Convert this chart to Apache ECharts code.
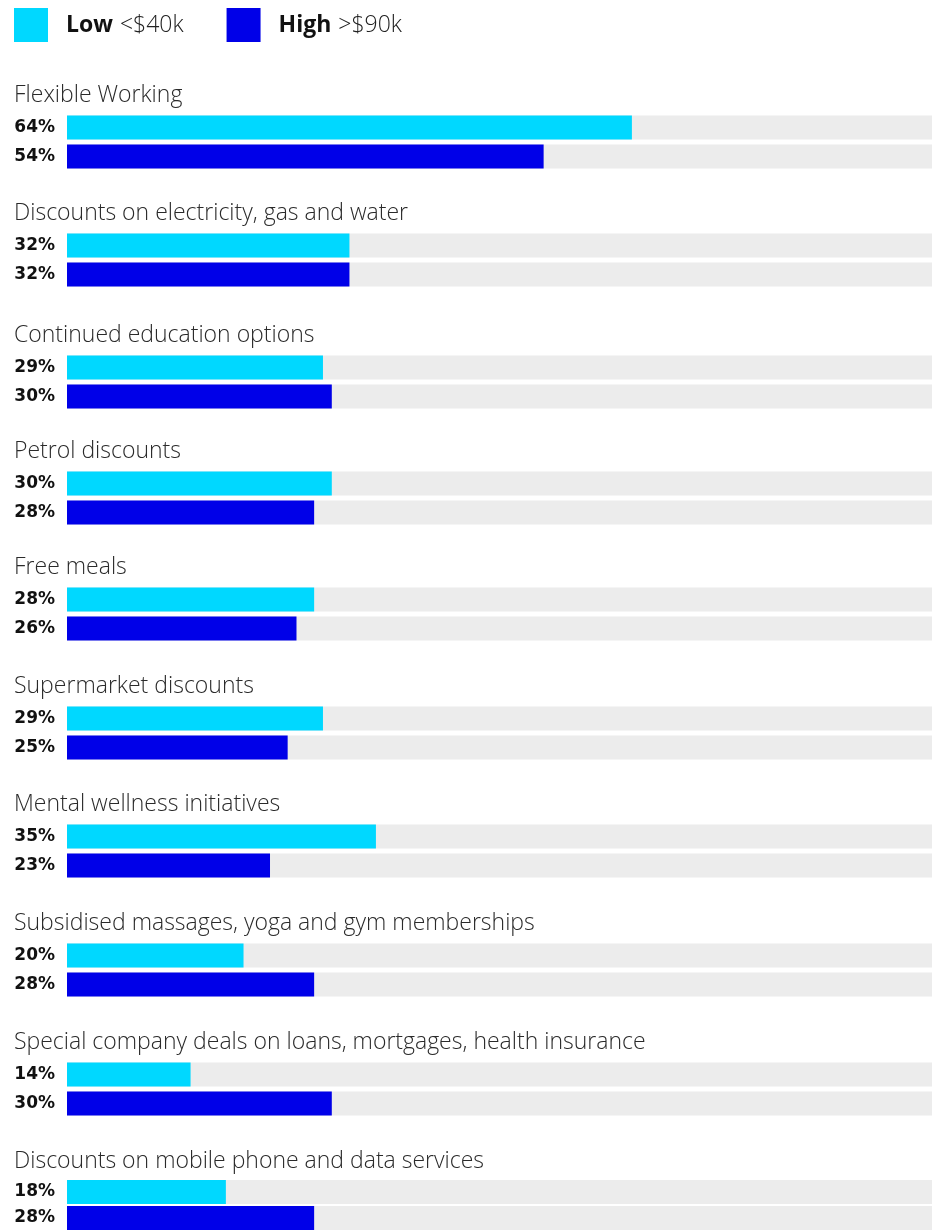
<!DOCTYPE html>
<html>
<head>
<meta charset="utf-8">
<script src="https://cdn.jsdelivr.net/npm/echarts@6/dist/echarts.min.js"></script>
<style>
  html, body { margin: 0; padding: 0; background: #ffffff; }
  #chart { width: 932px; height: 1231px; }
</style>
</head>
<body>
<div id="chart"></div>
<script>
// Employee benefit preferences by income bracket (% of respondents)
const categories = [
  'Flexible Working',
  'Discounts on electricity, gas and water',
  'Continued education options',
  'Petrol discounts',
  'Free meals',
  'Supermarket discounts',
  'Mental wellness initiatives',
  'Subsidised massages, yoga and gym memberships',
  'Special company deals on loans, mortgages, health insurance',
  'Discounts on mobile phone and data services'
];
const lowIncome = [64, 32, 29, 30, 28, 29, 35, 20, 14, 18];
const highIncome = [54, 32, 30, 28, 26, 25, 23, 28, 30, 28];
const seriesNames = ['Low', 'High'];
const seriesRanges = ['<$40k', '>$90k'];

// Layout: top edge of the first bar in each block
const blockTops = [114, 232, 354, 470, 586, 705, 823, 942, 1061, 1180];
const LOW_COLOR = '#00d8ff';
const HIGH_COLOR = '#0000e8';
const TRACK_COLOR = '#ececec';
const TEXT_FONT = '"Open Sans"';
const VALUE_FONT = '"DejaVu Sans"';

const grids = [], xAxes = [], yAxes = [], series = [], titles = [];

categories.forEach((cat, i) => {
  grids.push({ left: 67, right: 0, top: blockTops[i] - 1, height: 58 });
  xAxes.push({
    type: 'value', gridIndex: i, min: 0, max: 98,
    show: false, splitLine: { show: false }
  });
  yAxes.push({
    type: 'category', gridIndex: i, inverse: true,
    data: seriesNames, show: false
  });
  titles.push({
    text: cat, left: 14, top: blockTops[i] - 31, padding: 0,
    textStyle: {
      fontFamily: TEXT_FONT, fontWeight: 300, fontSize: 23,
      color: '#2a2a2a', lineHeight: 24
    }
  });
  series.push({
    type: 'bar', name: seriesNames[0],
    xAxisIndex: i, yAxisIndex: i,
    barWidth: 24,
    showBackground: true,
    backgroundStyle: { color: TRACK_COLOR },
    silent: true,
    data: [
      { value: lowIncome[i], itemStyle: { color: LOW_COLOR } },
      { value: highIncome[i], itemStyle: { color: HIGH_COLOR } }
    ],
    label: {
      show: true, position: 'left', distance: 12,
      formatter: '{c}%',
      fontFamily: VALUE_FONT, fontWeight: 'bold', fontSize: 17, color: '#111'
    }
  });
});

// Empty series on their own off-canvas grid, only carrying the legend entries
const legendIdx = categories.length;
grids.push({ left: 0, top: -200, width: 10, height: 10 });
xAxes.push({ type: 'value', gridIndex: legendIdx, show: false });
yAxes.push({ type: 'category', gridIndex: legendIdx, data: seriesNames, show: false });
series.push(
  { type: 'bar', name: 'Low', xAxisIndex: legendIdx, yAxisIndex: legendIdx, data: [], itemStyle: { color: LOW_COLOR } },
  { type: 'bar', name: 'High', xAxisIndex: legendIdx, yAxisIndex: legendIdx, data: [], itemStyle: { color: HIGH_COLOR } }
);
const legendData = seriesNames.map((n, k) => ({
  name: n,
  itemStyle: { color: k === 0 ? LOW_COLOR : HIGH_COLOR }
}));

const chart = echarts.init(document.getElementById('chart'), null, { renderer: 'canvas' });
chart.setOption({
  animation: false,
  backgroundColor: '#ffffff',
  title: titles,
  legend: {
    left: 14, top: 8, padding: 0,
    itemWidth: 34, itemHeight: 34, itemGap: 43,
    icon: 'rect',
    selectedMode: false,
    data: legendData,
    formatter: (name) => {
      const k = seriesNames.indexOf(name);
      return '{b|' + name + '}{r|' + seriesRanges[k] + '}';
    },
    textStyle: {
      padding: [0, 0, 0, 13],
      rich: {
        b: { fontFamily: TEXT_FONT, fontWeight: 700, fontSize: 23, color: '#111', padding: [0, 7, 0, 0] },
        r: { fontFamily: TEXT_FONT, fontWeight: 300, fontSize: 23, color: '#222' }
      }
    }
  },
  grid: grids,
  xAxis: xAxes,
  yAxis: yAxes,
  series: series
});
</script>
</body>
</html>
